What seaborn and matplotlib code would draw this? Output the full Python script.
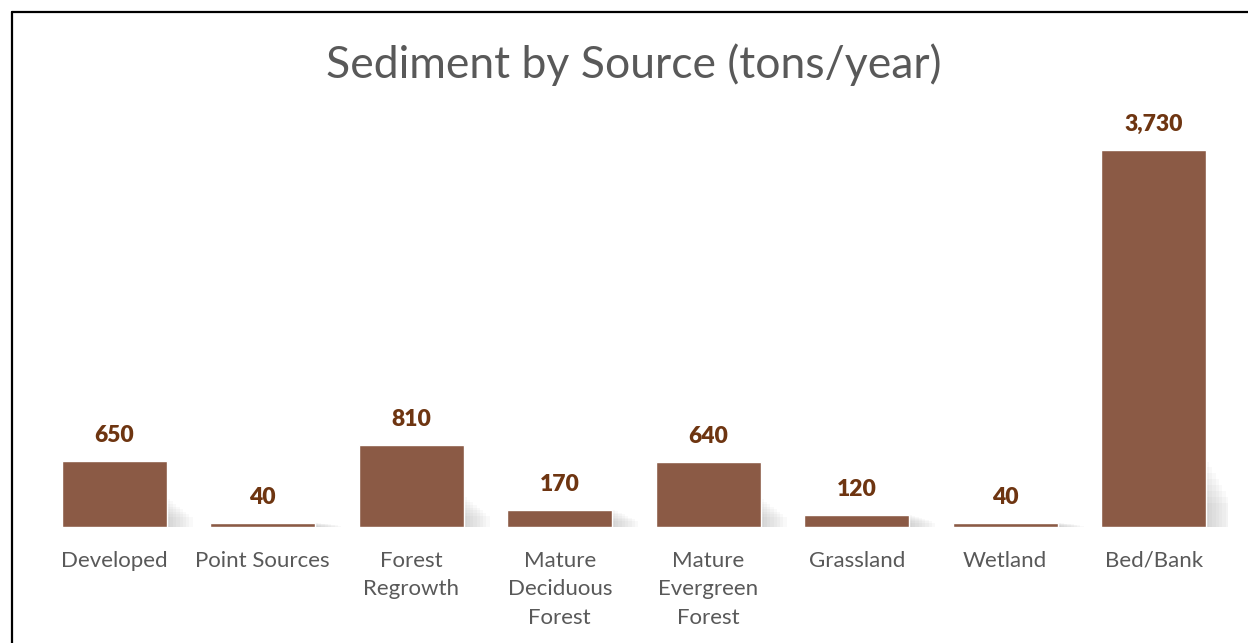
import matplotlib
matplotlib.use("Agg")
import matplotlib.pyplot as plt
import seaborn as sns
import pandas as pd
import numpy as np
from matplotlib.patches import Rectangle
from matplotlib.lines import Line2D

categories = ["Developed", "Point Sources", "Forest\nRegrowth", "Mature\nDeciduous\nForest",
              "Mature\nEvergreen\nForest", "Grassland", "Wetland", "Bed/Bank"]
values = [650, 40, 810, 170, 640, 120, 40, 3730]
value_labels = ["650", "40", "810", "170", "640", "120", "40", "3,730"]
title = "Sediment by Source (tons/year)"

sns.set_theme(style="white")
plt.rcParams["font.family"] = ["Lato", "DejaVu Sans"]

W, H = 1248, 643
fig = plt.figure(figsize=(W / 100, H / 100), dpi=100)
ax = fig.add_axes([40 / W, 1 - 527 / H, (1228 - 40) / W, (527 - 123) / H])

df = pd.DataFrame({"cat": categories, "val": values})
sns.barplot(data=df, x="cat", y="val", color="#8B5A45", saturation=1, width=0.707, ax=ax, zorder=3)
ax.set_ylim(0, 4000)
ax.set_xlim(-0.5, len(categories) - 0.5)

bars = list(ax.patches)
# soft shadows
for p in bars:
    x0, w, h = p.get_x(), p.get_width(), p.get_height()
    for k in range(8):
        ax.add_patch(Rectangle((x0 + w, 0), 0.02 + k * 0.022, min(h, 200 + 0.12 * h) * (1 - k * 0.09),
                               color="#7a7a7a", alpha=0.045, lw=0, zorder=2))

for p, lab in zip(bars, value_labels):
    ax.annotate(lab, (p.get_x() + p.get_width() / 2, p.get_height()), xytext=(0, 11),
                textcoords="offset points", ha="center", va="bottom", fontsize=16.5,
                fontweight="heavy", color="#6E3511")

ax.set_xlabel("")
ax.set_ylabel("")
ax.set_yticks([])
ax.tick_params(axis="x", length=0, pad=17, labelsize=16, labelcolor="#595959")
for lbl in ax.get_xticklabels():
    lbl.set_linespacing(1.55)
    lbl.set_va("top")
for s in ax.spines.values():
    s.set_visible(False)

fig.text(634 / W, 1 - 65 / H, title, ha="center", va="center", fontsize=32, color="#595959")

fig.add_artist(Line2D([12 / W, 12 / W], [0, 1 - 12 / H], color="black", lw=1.6))
fig.add_artist(Line2D([12 / W, 1], [1 - 12 / H, 1 - 12 / H], color="black", lw=1.6))

fig.savefig("out.png", dpi=100)
